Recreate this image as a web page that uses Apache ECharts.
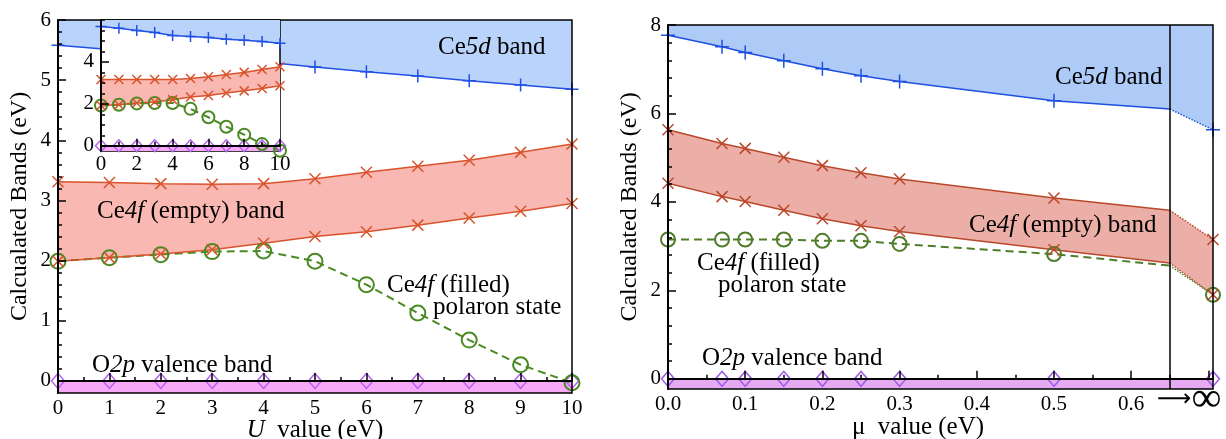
<!DOCTYPE html>
<html>
<head>
<meta charset="utf-8">
<script src="https://cdn.jsdelivr.net/npm/echarts@6/dist/echarts.min.js"></script>
<style>
  html, body { margin: 0; padding: 0; background: #fff; }
  #chart { width: 1226px; height: 439px; }
</style>
</head>
<body>
<div id="chart"></div>
<script>
// ---- left panel: bands vs U ----
var uValues = [0, 1, 2, 3, 4, 5, 6, 7, 8, 9, 10];
var uCe5d = [5.58, 5.51, 5.44, 5.37, 5.30, 5.22, 5.14, 5.07, 4.99, 4.92, 4.85];
var uCe4fUpper = [3.31, 3.30, 3.28, 3.27, 3.28, 3.36, 3.47, 3.57, 3.67, 3.80, 3.94];
var uCe4fLower = [1.99, 2.05, 2.11, 2.18, 2.29, 2.40, 2.48, 2.59, 2.71, 2.82, 2.95];
var uPolaron = [1.99, 2.05, 2.10, 2.15, 2.16, 1.99, 1.60, 1.13, 0.68, 0.27, -0.03];
var uO2p = [0, 0, 0, 0, 0, 0, 0, 0, 0, 0, 0];

// ---- inset ----
var insetCe5d = [5.69, 5.61, 5.50, 5.40, 5.26, 5.21, 5.16, 5.08, 5.03, 4.97, 4.89];
var insetCe4fUpper = [3.16, 3.16, 3.16, 3.16, 3.16, 3.21, 3.29, 3.40, 3.50, 3.64, 3.77];
var insetCe4fLower = [1.92, 1.96, 2.04, 2.09, 2.20, 2.33, 2.40, 2.52, 2.62, 2.73, 2.86];
var insetPolaron = [1.92, 1.96, 2.02, 2.04, 2.04, 1.76, 1.36, 0.91, 0.53, 0.08, -0.24];
var insetO2p = [0, 0, 0, 0, 0, 0, 0, 0, 0, 0, 0];

// ---- right panel: bands vs mu ----
var muValues = [0, 0.07, 0.1, 0.15, 0.2, 0.25, 0.3, 0.5];
var muEdge = 0.65;   // solid lines stop here
var muInf = 0.706;   // where the "infinity" points sit
var muCe5d = [7.77, 7.51, 7.38, 7.19, 7.01, 6.85, 6.72, 6.29];
var muCe4fUpper = [5.63, 5.32, 5.21, 5.01, 4.82, 4.66, 4.52, 4.09];
var muCe4fLower = [4.42, 4.12, 4.01, 3.81, 3.62, 3.46, 3.33, 2.92];
var muPolaron = [3.15, 3.15, 3.15, 3.15, 3.12, 3.12, 3.05, 2.82];
var muO2p = [0, 0, 0, 0, 0, 0, 0, 0];
// [value at muEdge, value at infinity]
var muCe5dTail = [6.10, 5.63];
var muCe4fUpperTail = [3.81, 3.15];
var muCe4fLowerTail = [2.62, 1.90];
var muPolaronTail = [2.56, 1.90];
var muO2pTail = [0, 0];

// tick labels
var leftYTicks = [0, 1, 2, 3, 4, 5, 6];
var rightYTicks = [0, 2, 4, 6, 8];
var insetYLabels = [0, 2, 4];

var serif = 'Liberation Serif';
var PLUS = 'path://M0,-1L0,1M-1,0L1,0';
var CROSS = 'path://M-1,-1L1,1M-1,1L1,-1';

function pts(xs, ys) {
  return xs.map(function (x, i) { return [x, ys[i]]; });
}
function steps(from, to, step) {
  var out = [];
  for (var v = from; v <= to + 1e-9; v += step) out.push(Math.round(v * 1000) / 1000);
  return out;
}
function hollow(color, w) {
  return { color: 'transparent', borderColor: color, borderWidth: w || 1.5 };
}
function mk(ax, data, o) {
  return Object.assign({
    type: 'line', xAxisIndex: ax[0], yAxisIndex: ax[1], z: ax[2],
    data: data, silent: true, animation: false, showAllSymbol: true
  }, o);
}
// band between two curves: fill below the upper one, then paint white below the lower one
function band(ax, xs, upper, lower, fill) {
  return [
    mk(ax, pts(xs, upper), { symbol: 'none', lineStyle: { opacity: 0 },
      areaStyle: { color: fill, origin: 'start', opacity: 1 } }),
    mk(ax, pts(xs, lower), { symbol: 'none', lineStyle: { opacity: 0 },
      areaStyle: { color: '#fff', origin: 'start', opacity: 1 } })
  ];
}

// all series of one U-panel (main or inset)
function uPanel(ax, blue, upper, lower, pol, o2p, c, s) {
  return band(ax, uValues, upper, lower, c.redFill).concat([
    mk(ax, pts(uValues, blue), { symbol: PLUS, symbolSize: s.plus, itemStyle: hollow(c.blue),
      lineStyle: { color: c.blue, width: 1.5 }, areaStyle: { color: c.blueFill, origin: 'end', opacity: 1 } }),
    mk(ax, pts(uValues, o2p), { symbol: 'diamond', symbolSize: s.dia, itemStyle: hollow(c.purple),
      lineStyle: { color: c.purple, width: 1.5 }, areaStyle: { color: c.purpleFill, origin: 'start', opacity: 1 } }),
    mk(ax, pts(uValues, pol), { symbol: 'circle', symbolSize: s.circ, itemStyle: hollow(c.green, 2),
      lineStyle: { color: c.green, width: 2, type: [8, 5] } }),
    mk(ax, pts(uValues, upper), { symbol: CROSS, symbolSize: s.cross, itemStyle: hollow(c.red),
      lineStyle: { color: c.red, width: 1.5 } }),
    mk(ax, pts(uValues, lower), { symbol: CROSS, symbolSize: s.cross, itemStyle: hollow(c.red),
      lineStyle: { color: c.red, width: 1.5 } })
  ]);
}

var leftC = { blue: '#2150e6', blueFill: '#b9d3fa', red: '#d9532c', redFill: '#f9b8b1',
  green: '#4a8a22', purple: '#b35fef', purpleFill: '#f7a8f7' };
var rightC = { blue: '#1e4fe0', blueFill: '#aecbf7', red: '#b9482b', redFill: '#ecafa7',
  green: '#4f7d2a', purple: '#9d5be8', purpleFill: '#e5aaf2' };

// right panel helpers
function solid(vals, tail) {
  var d = pts(muValues, vals);
  d.push({ value: [muEdge, tail[0]], symbol: 'none' });
  return d;
}
function dotted(tail) {
  return [{ value: [muEdge, tail[0]], symbol: 'none' }, [muInf, tail[1]]];
}
var muAll = muValues.concat([muEdge, muInf]);

var R = [1, 2, 2];
var rc = rightC;
var rightSeries = band(R, muAll, muCe4fUpper.concat(muCe4fUpperTail), muCe4fLower.concat(muCe4fLowerTail), rc.redFill).concat([
  mk(R, solid(muCe5d, muCe5dTail), { symbol: PLUS, symbolSize: 14, itemStyle: hollow(rc.blue),
    lineStyle: { color: rc.blue, width: 1.5 }, areaStyle: { color: rc.blueFill, origin: 'end', opacity: 1 } }),
  mk(R, dotted(muCe5dTail), { symbol: PLUS, symbolSize: 14, itemStyle: hollow(rc.blue),
    lineStyle: { color: rc.blue, width: 1.5, type: 'dotted' }, areaStyle: { color: rc.blueFill, origin: 'end', opacity: 1 } }),
  mk(R, solid(muO2p, muO2pTail), { symbol: 'diamond', symbolSize: [13, 15], itemStyle: hollow(rc.purple),
    lineStyle: { color: rc.purple, width: 1.5 }, areaStyle: { color: rc.purpleFill, origin: 'start', opacity: 1 },
    markLine: { silent: true, symbol: 'none', label: { show: false },
      lineStyle: { color: '#000', width: 1.5, type: 'solid' }, data: [{ xAxis: muEdge }] } }),
  mk(R, dotted(muO2pTail), { symbol: 'diamond', symbolSize: [13, 15], itemStyle: hollow(rc.purple),
    lineStyle: { color: rc.purple, width: 1.5, type: 'dotted' }, areaStyle: { color: rc.purpleFill, origin: 'start', opacity: 1 } }),
  mk(R, solid(muPolaron, muPolaronTail), { symbol: 'circle', symbolSize: 14, itemStyle: hollow(rc.green, 2),
    lineStyle: { color: rc.green, width: 2, type: [8, 5] } }),
  mk(R, dotted(muPolaronTail), { symbol: 'circle', symbolSize: 14, itemStyle: hollow(rc.green, 2),
    lineStyle: { color: rc.green, width: 1.5, type: 'dotted' } }),
  mk(R, solid(muCe4fUpper, muCe4fUpperTail), { symbol: CROSS, symbolSize: 11, itemStyle: hollow(rc.red),
    lineStyle: { color: rc.red, width: 1.5 } }),
  mk(R, dotted(muCe4fUpperTail), { symbol: CROSS, symbolSize: 11, itemStyle: hollow(rc.red),
    lineStyle: { color: rc.red, width: 1.5, type: 'dotted' } }),
  mk(R, solid(muCe4fLower, muCe4fLowerTail), { symbol: CROSS, symbolSize: 11, itemStyle: hollow(rc.red),
    lineStyle: { color: rc.red, width: 1.5 } }),
  mk(R, dotted(muCe4fLowerTail), { symbol: CROSS, symbolSize: 11, itemStyle: hollow(rc.red),
    lineStyle: { color: rc.red, width: 1.5, type: 'dotted' } })
]);

var series = []
  .concat(uPanel([0, 0, 2], uCe5d, uCe4fUpper, uCe4fLower, uPolaron, uO2p, leftC,
    { plus: 13, cross: 11, circ: 15, dia: [13, 15] }))
  .concat(rightSeries)
  .concat(uPanel([2, 4, 5], insetCe5d, insetCe4fUpper, insetCe4fLower, insetPolaron, insetO2p, leftC,
    { plus: 11, cross: 9, circ: 12, dia: [11, 12] }));

var tickStyle = { color: '#000', width: 1.5 };
var labelStyle = { color: '#000', fontFamily: serif, fontSize: 21 };

function xAx(grid, o) {
  return Object.assign({
    type: 'value', gridIndex: grid, z: 3, position: 'bottom',
    axisLine: { lineStyle: { color: '#000', width: 2 } },
    axisTick: { inside: true, length: 8, lineStyle: tickStyle },
    minorTick: { show: true, splitNumber: 2, length: 4, lineStyle: tickStyle },
    splitLine: { show: false },
    axisLabel: Object.assign({ margin: 5 }, labelStyle)
  }, o);
}
function yMajor(grid, min, max, ticks, labels, z, o) {
  return Object.assign({
    type: 'value', gridIndex: grid, min: min, max: max, z: z, position: 'left',
    axisLine: { show: true, lineStyle: { color: '#000', width: 2 } },
    axisTick: { inside: true, length: 8, lineStyle: tickStyle, customValues: ticks },
    splitLine: { show: false },
    axisLabel: Object.assign({ margin: 7, customValues: labels }, labelStyle)
  }, o);
}
function yMinor(grid, min, max, ticks, z) {
  return {
    type: 'value', gridIndex: grid, min: min, max: max, z: z, position: 'left',
    axisLine: { show: false },
    axisTick: { inside: true, length: 4, lineStyle: tickStyle, customValues: ticks },
    splitLine: { show: false },
    axisLabel: { show: false }
  };
}

var nameStyle = { color: '#000', fontFamily: serif, fontSize: 24 };
var rich = {
  r: { fontFamily: serif, fontSize: 25, color: '#000' },
  i: { fontFamily: serif, fontSize: 25, color: '#000', fontStyle: 'italic' },
  arrow: { fontFamily: 'DejaVu Sans', fontSize: 24, color: '#000' },
  big: { fontFamily: serif, fontSize: 42, color: '#000' }
};
function label(x, y, text, align) {
  return { type: 'text', x: x, y: y, z: 100, silent: true,
    style: { text: text, rich: rich, align: align || 'left', verticalAlign: 'middle' } };
}

var option = {
  backgroundColor: '#fff',
  animation: false,
  grid: [
    { left: 58, top: 20, width: 514, height: 373, show: true, borderColor: '#000', borderWidth: 1.5, z: 3 },
    { left: 668, top: 25, width: 545, height: 364, show: true, borderColor: '#000', borderWidth: 1.5, z: 3 },
    { left: 101, top: 20, width: 179, height: 131, show: true, backgroundColor: '#fff',
      borderColor: '#000', borderWidth: 1.5, z: 4 }
  ],
  xAxis: [
    xAx(0, { min: 0, max: 10, interval: 1 }),
    xAx(1, { min: 0, max: muInf, interval: 0.1,
      axisLabel: Object.assign({ margin: 5, formatter: function (v) { return v > 0.65 ? '' : v.toFixed(1); } }, labelStyle) }),
    xAx(2, { min: 0, max: 10, interval: 2, z: 6,
      axisTick: { inside: true, length: 7, lineStyle: tickStyle },
      axisLabel: Object.assign({ margin: 3 }, labelStyle) })
  ],
  yAxis: [
    yMajor(0, -0.2, 6, leftYTicks, leftYTicks, 3, {
      name: 'Calcualated Bands (eV)', nameLocation: 'middle', nameGap: 26, nameTextStyle: nameStyle }),
    yMinor(0, -0.2, 6, steps(0, 6, 0.2), 3),
    yMajor(1, -0.23, 8, rightYTicks, rightYTicks, 3, {
      name: 'Calcualated Bands (eV)', nameLocation: 'middle', nameGap: 26, nameTextStyle: nameStyle }),
    yMinor(1, -0.23, 8, steps(0, 8, 0.4), 3),
    yMajor(2, -0.25, 6, [0, 2, 4], insetYLabels, 6),
    yMinor(2, -0.25, 6, steps(0, 6, 0.5), 6)
  ],
  graphic: [
    label(438, 47, '{r|Ce}{i|5d}{r| band}'),
    label(97, 211, '{r|Ce}{i|4f}{r| (empty) band}'),
    label(387, 285, '{r|Ce}{i|4f}{r| (filled)}'),
    label(433, 307, '{r|polaron state}'),
    label(92, 365, '{r|O}{i|2p}{r| valence band}'),
    label(315, 430, '{i|U}{r|  value (eV)}', 'center'),
    label(1055, 77, '{r|Ce}{i|5d}{r| band}'),
    label(969, 225, '{r|Ce}{i|4f}{r| (empty) band}'),
    label(697, 263, '{r|Ce}{i|4f}{r| (filled)}'),
    label(718, 285, '{r|polaron state}'),
    label(702, 358, '{r|O}{i|2p}{r| valence band}'),
    label(918, 427, '{r|μ  value (eV)}', 'center'),
    label(1157, 400, '{arrow|⟶}{big|∞}')
  ],
  series: series
};

var chart = echarts.init(document.getElementById('chart'), null, { renderer: 'canvas' });
chart.setOption(option);
</script>
</body>
</html>
